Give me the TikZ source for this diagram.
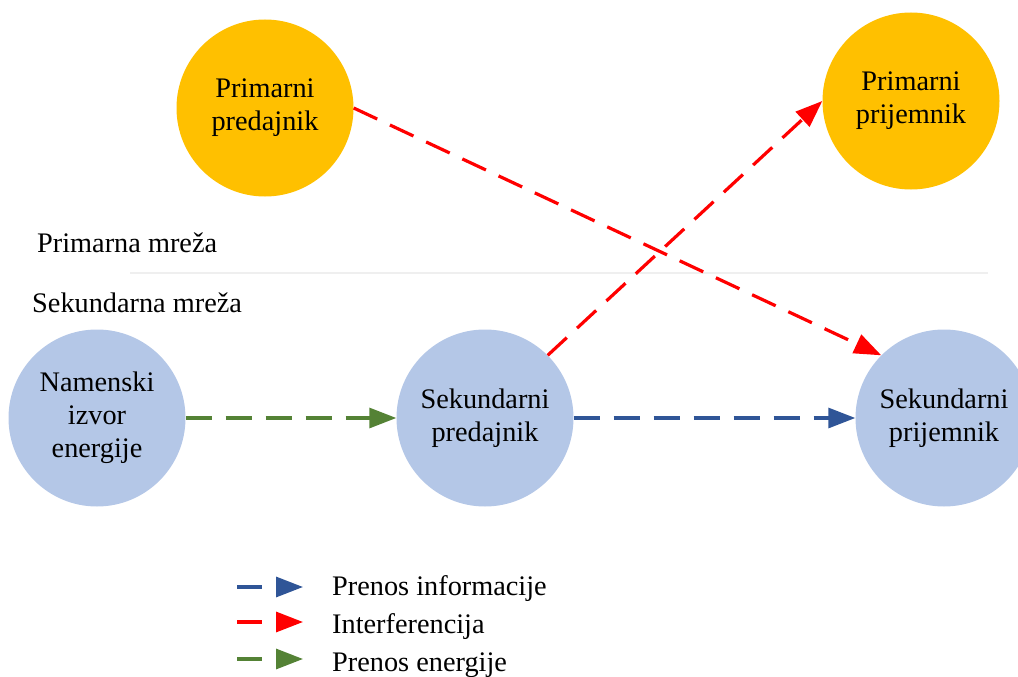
\documentclass[tikz,border=0pt]{standalone}
\usepackage{fontspec}
\setmainfont{Liberation Serif}
\usetikzlibrary{arrows.meta}
\definecolor{primfill}{HTML}{FFC000}
\definecolor{secfill}{HTML}{B4C7E7}
\definecolor{infoblue}{HTML}{2F5597}
\definecolor{intred}{HTML}{FF0000}
\definecolor{energreen}{HTML}{548235}
\definecolor{sepgrey}{HTML}{EFEFEF}
\begin{document}
\begin{tikzpicture}[x=1pt,y=-1pt,
  font=\fontsize{28.3}{33}\selectfont,
  station/.style={circle,minimum size=177pt,inner sep=0pt,align=center},
  primary/.style={station,fill=primfill},
  secondary/.style={station,fill=secfill},
  link/.style={line width=3.2pt,dash pattern=on 26pt off 14pt,
    -{Triangle[length=27pt,width=20pt]}},
  info/.style={link,draw=infoblue},
  interf/.style={link,draw=intred},
  energy/.style={link,draw=energreen},
  legendlink/.style={dash pattern=on 25pt off 40pt},
  label/.style={anchor=base west,inner sep=0pt}]
\useasboundingbox (0,0) rectangle (1018,677);

% network stations
\node[primary]   (ptx)  at (265,108) {Primarni\\predajnik};
\node[primary]   (prx)  at (911,101) {Primarni\\prijemnik};
\node[secondary] (src)  at (97,418)  {Namenski\\izvor\\energije};
\node[secondary] (stx)  at (485,418) {Sekundarni\\predajnik};
\node[secondary] (srx)  at (944,418) {Sekundarni\\prijemnik};

% boundary between the two networks
\node[label] (plabel) at (37,252) {Primarna mreža};
\node[label] (slabel) at (32,312) {Sekundarna mreža};
\coordinate (sepL) at (130,273);
\coordinate (sepR) at (988,273);
\draw[sepgrey,line width=2.5pt] (sepL) -- (sepR);

% links
\draw[energy] (src.east) -- (stx.west);
\draw[info]   (stx.east) -- (srx.west);
\draw[interf] (ptx.east) -- (srx.north west);
\draw[interf] (stx.north east) -- (prx.west);

% legend
\coordinate (l1a) at (237,587); \coordinate (l1b) at (303,587);
\coordinate (l2a) at (237,622); \coordinate (l2b) at (303,622);
\coordinate (l3a) at (237,659); \coordinate (l3b) at (303,659);
\draw[info,legendlink]   (l1a) -- (l1b);
\draw[interf,legendlink] (l2a) -- (l2b);
\draw[energy,legendlink] (l3a) -- (l3b);
\node[label] (t1) at (332,595) {Prenos informacije};
\node[label] (t2) at (332,633) {Interferencija};
\node[label] (t3) at (332,671) {Prenos energije};
\end{tikzpicture}
\end{document}
